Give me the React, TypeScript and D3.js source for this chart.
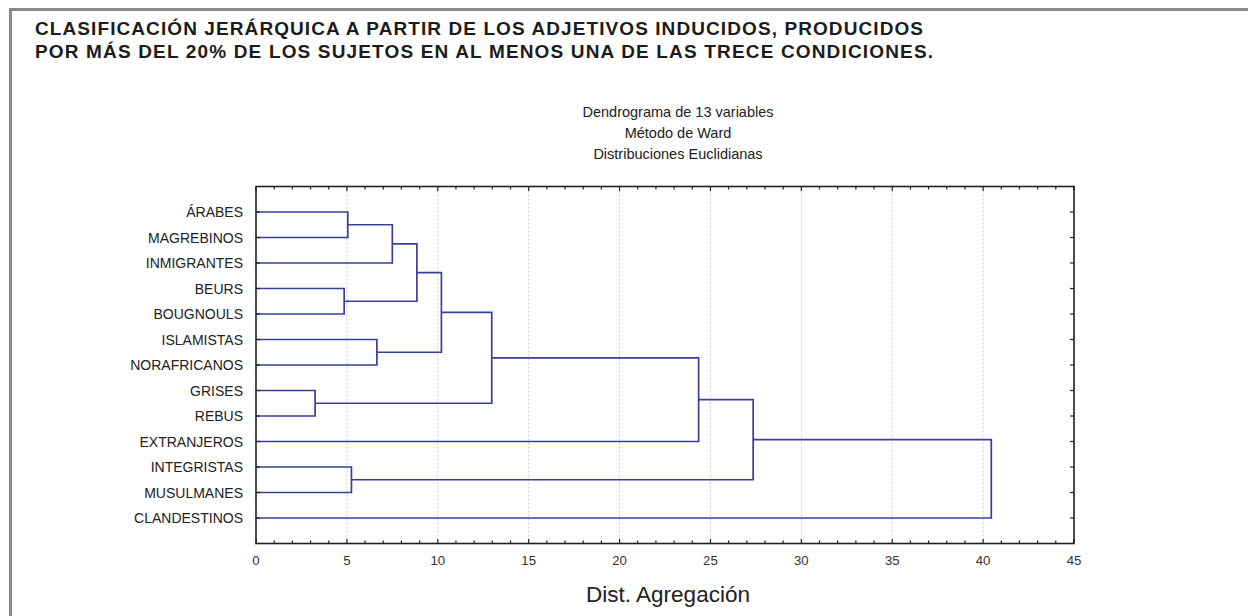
import React, { useMemo } from "react";
import * as d3 from "d3";

const W = 1248;
const H = 616;

// leaves, top to bottom
const leaves = [
  "ÁRABES",
  "MAGREBINOS",
  "INMIGRANTES",
  "BEURS",
  "BOUGNOULS",
  "ISLAMISTAS",
  "NORAFRICANOS",
  "GRISES",
  "REBUS",
  "EXTRANJEROS",
  "INTEGRISTAS",
  "MUSULMANES",
  "CLANDESTINOS",
];

// linkage: [child a, child b, height]; ids >= 13 are earlier clusters
const merges: [number, number, number][] = [
  [0, 1, 5.05],
  [13, 2, 7.5],
  [3, 4, 4.85],
  [14, 15, 8.85],
  [5, 6, 6.65],
  [16, 17, 10.2],
  [7, 8, 3.25],
  [18, 19, 12.97],
  [20, 9, 24.35],
  [10, 11, 5.25],
  [21, 22, 27.35],
  [23, 12, 40.45],
];

const xTicks = [0, 5, 10, 15, 20, 25, 30, 35, 40, 45];
const gridTicks = [5, 10, 15, 20, 25, 30, 35, 40];

const titleLines = [
  "CLASIFICACIÓN JERÁRQUICA A PARTIR DE LOS ADJETIVOS INDUCIDOS, PRODUCIDOS",
  "POR MÁS DEL 20% DE LOS SUJETOS EN AL MENOS UNA DE LAS TRECE CONDICIONES.",
];
const subtitle = ["Dendrograma de 13 variables", "Método de Ward", "Distribuciones Euclidianas"];

const LEFT = 256;
const RIGHT = 1074;
const TOP = 186.5;
const BOTTOM = 543.5;
const LINE = "#3a3f9c";
const FONT = "Liberation Sans, Arial, sans-serif";

const App = () => {
  const x = d3.scaleLinear().domain([0, 45]).range([LEFT, RIGHT]);
  const y = d3.scalePoint<string>().domain(leaves).range([TOP, BOTTOM]).padding(1);

  const paths = useMemo(() => {
    const ys: number[] = leaves.map((l) => y(l) as number);
    const hs: number[] = leaves.map(() => 0);
    const out: string[] = [];
    merges.forEach(([a, b, h]) => {
      const p = d3.path();
      p.moveTo(x(hs[a]), ys[a]);
      p.lineTo(x(h), ys[a]);
      p.lineTo(x(h), ys[b]);
      p.lineTo(x(hs[b]), ys[b]);
      out.push(p.toString());
      ys.push((ys[a] + ys[b]) / 2);
      hs.push(h);
    });
    return out;
  }, []);

  const minor = d3.range(0, 46);
  const cx = (LEFT + RIGHT) / 2;

  return (
    <svg
      width={W}
      height={H}
      style={{ position: "absolute", left: 0, top: 0, background: "#fff" }}
      fontFamily={FONT}
    >
      {/* frame */}
      <rect x={10.5} y={9.5} width={W + 20} height={H + 20} fill="none" stroke="#8a8a8a" strokeWidth={3} />

      {titleLines.map((t, i) => (
        <text
          key={i}
          x={35}
          y={35 + i * 22.5}
          fontSize={19}
          fontWeight="bold"
          fontFamily="Liberation Sans Narrow, Liberation Sans, Arial, sans-serif"
          fill="#1c1c1c"
          textLength={i === 0 ? 888 : 898}
          lengthAdjust="spacing"
        >
          {t}
        </text>
      ))}

      {subtitle.map((t, i) => (
        <text key={i} x={678} y={117 + i * 21} fontSize={14.5} textAnchor="middle" fill="#222">
          {t}
        </text>
      ))}

      {/* grid */}
      {gridTicks.map((t) => (
        <line key={t} x1={x(t)} x2={x(t)} y1={TOP} y2={BOTTOM} stroke="#c9cad2" strokeWidth={1} strokeDasharray="2,2" />
      ))}

      {/* dendrogram */}
      {paths.map((d, i) => (
        <path key={i} d={d} fill="none" stroke={LINE} strokeWidth={1.7} />
      ))}

      {/* minor / major ticks top & bottom */}
      {minor.map((t) => {
        const len = t % 5 === 0 ? 4.5 : 3;
        return (
          <g key={t} stroke="#222" strokeWidth={1.2}>
            <line x1={x(t)} x2={x(t)} y1={TOP} y2={TOP + len} />
            <line x1={x(t)} x2={x(t)} y1={BOTTOM} y2={BOTTOM - len} />
          </g>
        );
      })}

      {/* y ticks both sides */}
      {leaves.map((l) => (
        <g key={l} stroke="#222" strokeWidth={1.2}>
          <line x1={LEFT} x2={LEFT + 4} y1={y(l)} y2={y(l)} />
          <line x1={RIGHT} x2={RIGHT - 4} y1={y(l)} y2={y(l)} />
        </g>
      ))}

      <rect x={LEFT} y={TOP} width={RIGHT - LEFT} height={BOTTOM - TOP} fill="none" stroke="#222" strokeWidth={1.6} />

      {/* leaf labels */}
      {leaves.map((l) => (
        <text key={l} x={243} y={y(l)} dy="0.36em" fontSize={14} textAnchor="end" fill="#222">
          {l}
        </text>
      ))}

      {xTicks.map((t) => (
        <text key={t} x={x(t)} y={565} fontSize={13.2} textAnchor="middle" fill="#333">
          {t}
        </text>
      ))}

      <text x={cx + 3} y={601.5} fontSize={22.5} textAnchor="middle" fill="#222">
        Dist. Agregación
      </text>
    </svg>
  );
};

export default App;
